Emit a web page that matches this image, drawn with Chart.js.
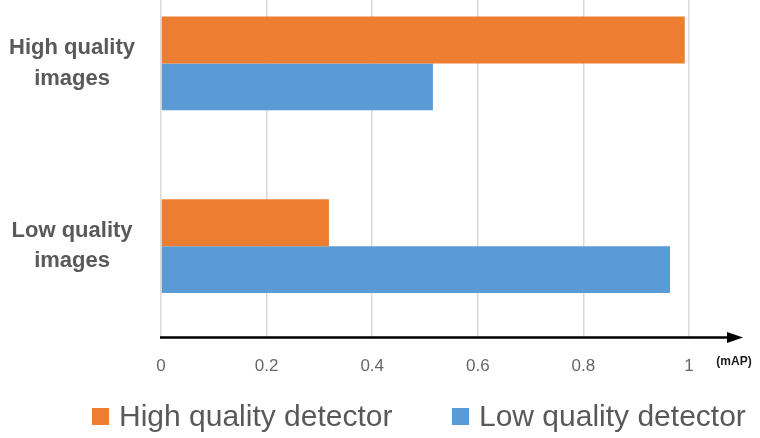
<!DOCTYPE html>
<html><head><meta charset="utf-8">
<script src="https://cdn.jsdelivr.net/npm/chart.js@4"></script>
<style>
html,body{margin:0;padding:0;background:#fff;overflow:hidden}
#wrap{position:relative;width:760px;height:438px;overflow:hidden;background:#fff}
#c{position:absolute;left:0;top:-28px}
#legend{position:absolute;left:0;top:396px;width:760px;height:40px;font-family:"Liberation Sans",Arial,sans-serif;font-size:30px;color:#595959}
.item{position:absolute;top:0;display:flex;align-items:center;height:40px;white-space:nowrap}
.box{width:17px;height:17px;margin-right:10px}
</style></head>
<body><div id="wrap"><canvas id="c" width="760" height="467"></canvas><div id="legend"></div></div>
<script>
const categories = [["High quality","images"],["Low quality","images"]];
const seriesNames = ["High quality detector","Low quality detector"];
const highDetector = [0.992, 0.318];
const lowDetector = [0.515, 0.964];
const xTicks = [0, 0.2, 0.4, 0.6, 0.8, 1];
const axisUnit = "(mAP)";
const colors = ["#ED7D31", "#5B9BD5"];

const arrowPlugin = {
  id: 'arrowAxis',
  afterDraw(chart) {
    const {ctx, chartArea} = chart;
    const y = chartArea.bottom;
    ctx.save();
    ctx.strokeStyle = '#000';
    ctx.fillStyle = '#000';
    ctx.lineWidth = 2.5;
    ctx.beginPath();
    ctx.moveTo(chartArea.left - 1, y);
    ctx.lineTo(729, y);
    ctx.stroke();
    ctx.beginPath();
    ctx.moveTo(727, y - 5.5);
    ctx.lineTo(743, y);
    ctx.lineTo(727, y + 5.5);
    ctx.closePath();
    ctx.fill();
    ctx.font = 'bold 12px "Liberation Sans", Arial, sans-serif';
    ctx.textAlign = 'center';
    ctx.textBaseline = 'middle';
    ctx.fillStyle = '#1a1a1a';
    ctx.fillText(axisUnit, 734, y + 24);
    ctx.restore();
  }
};

new Chart(document.getElementById('c'), {
  type: 'bar',
  data: {
    labels: categories,
    datasets: [
      {label: seriesNames[0], data: highDetector, backgroundColor: colors[0], borderWidth: 0},
      {label: seriesNames[1], data: lowDetector, backgroundColor: colors[1], borderWidth: 0}
    ]
  },
  options: {
    indexAxis: 'y',
    responsive: false,
    animation: false,
    devicePixelRatio: 1,
    layout: {padding: {left: 0, right: 71, top: 0, bottom: 0}},
    datasets: {bar: {categoryPercentage: 0.514, barPercentage: 1.0}},
    plugins: {legend: {display: false}, tooltip: {enabled: false}},
    scales: {
      x: {
        min: 0, max: 1,
        afterBuildTicks(scale) { scale.ticks = xTicks.map(v => ({value: v})); },
        afterFit(scale) { scale.height = 101.5; scale.paddingLeft = 0; scale.paddingRight = 0; },
        grid: {color: '#D9D9D9', lineWidth: 1.5, drawTicks: false},
        border: {display: false},
        ticks: {
          padding: 19,
          color: '#666666',
          font: {family: '"Liberation Sans", Arial, sans-serif', size: 17},
          callback: (v) => String(v)
        }
      },
      y: {
        afterFit(scale) { scale.width = 161; scale.paddingTop = 0; scale.paddingBottom = 0; },
        grid: {display: false, drawTicks: false},
        border: {display: false},
        ticks: {
          padding: 26,
          crossAlign: 'center',
          color: '#595959',
          font: {family: '"Liberation Sans", Arial, sans-serif', size: 22, weight: 'bold', lineHeight: 1.37}
        }
      }
    }
  },
  plugins: [arrowPlugin]
});

const legend = document.getElementById('legend');
const legendLeft = [92, 452];
seriesNames.forEach((name, i) => {
  const it = document.createElement('div');
  it.className = 'item';
  it.style.left = legendLeft[i] + 'px';
  const b = document.createElement('div');
  b.className = 'box';
  b.style.background = colors[i];
  const t = document.createElement('span');
  t.textContent = name;
  it.appendChild(b); it.appendChild(t);
  legend.appendChild(it);
});
</script>
</body></html>
